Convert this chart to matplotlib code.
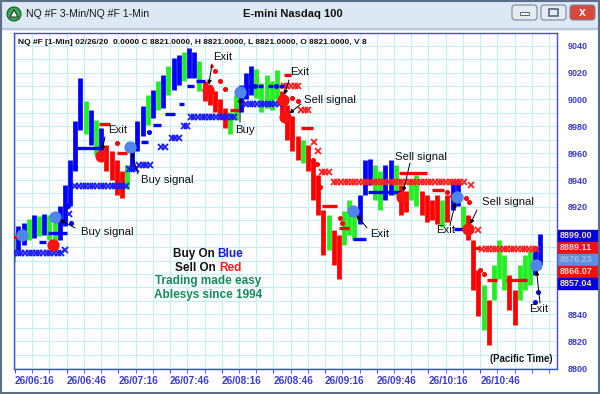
import numpy as np
import matplotlib.pyplot as plt
from matplotlib.patches import Rectangle, FancyBboxPatch, Circle, Polygon
from matplotlib.transforms import IdentityTransform

plt.rcParams['font.family'] = ['Liberation Sans', 'DejaVu Sans']

# time axis: minutes after 06:16, one bar every 3 minutes
bar_start = -1
bar_step = 3
bar_high = [8901, 8906, 8908, 8911, 8914, 8913, 8915, 8914, 8910, 8921,
            8936, 8955, 8984, 9016, 8999, 8992, 8985, 8979, 8966, 8962,
            8955, 8947, 8951, 8966, 8984, 8995, 9003, 9007, 9014, 9018,
            9025, 9031, 9033, 9035, 9038, 9035, 9029, 9014, 9011, 9006,
            9000, 8994, 8991, 9003, 9011, 9020, 9025, 9023, 9012, 9018,
            9014, 9022, 9006, 8996, 8988, 8973, 8970, 8966, 8955, 8944,
            8918, 8914, 8903, 8899, 8917, 8925, 8917, 8929, 8955, 8956,
            8951, 8947, 8951, 8955, 8951, 8936, 8932, 8940, 8944, 8932,
            8929, 8925, 8929, 8925, 8929, 8940, 8940, 8921, 8914, 8895,
            8873, 8862, 8851, 8877, 8895, 8884, 8869, 8858, 8877, 8884,
            8888, 8891, 8900]
bar_low = [8879, 8888, 8892, 8895, 8897, 8898, 8899, 8895, 8888, 8895,
           8906, 8921, 8947, 8977, 8974, 8966, 8959, 8955, 8947, 8940,
           8929, 8927, 8933, 8947, 8962, 8973, 8981, 8986, 8992, 8994,
           9003, 9007, 9011, 9014, 9016, 9016, 9006, 8999, 8996, 8991,
           8986, 8979, 8974, 8985, 8991, 9000, 9003, 9001, 8991, 8994,
           8992, 9000, 8985, 8970, 8962, 8955, 8953, 8947, 8925, 8914,
           8884, 8888, 8877, 8866, 8892, 8899, 8895, 8907, 8929, 8936,
           8925, 8918, 8925, 8929, 8929, 8914, 8916, 8925, 8921, 8914,
           8909, 8910, 8907, 8905, 8909, 8918, 8921, 8903, 8895, 8858,
           8839, 8828, 8817, 8851, 8866, 8858, 8843, 8832, 8851, 8858,
           8862, 8869, 8877]
bar_color = ("gbbgbgbggb" "bbbbgbgbrr" "rrgbbbgbgb" "gbbgbbgrrr" "rrggbbbggg"
             "ggrrrrgrrr" "rgrrgggbbb" "ggbbgrrggr" "rrrgrbbgrr" "rgrgggrrgg"
             "gbb")

# trailing stops: (from minute, to minute, price)
blue_x_stops = [(-0.5, 27, 8885.5), (29, 29, 8888), (31.5, 31.5, 8915),
                (35, 66, 8935.5), (66, 72, 8948), (72, 79, 8951),
                (85, 89, 8964.5), (91, 97, 8971), (98, 101, 8980),
                (102, 129, 8987), (132, 155, 8997)]
red_x_stops = [(156, 165, 9010), (166, 172, 8992), (173.5, 173.5, 8968),
               (176, 176, 8962), (178, 184, 8946), (185, 262, 8938.5),
               (264.5, 264.5, 8936), (269, 269, 8903), (271, 304, 8889)]
blue_dashes = [(14, 18, 8894), (19, 30, 8900.5), (36, 49, 8964),
               (73, 77, 8968), (80, 85, 8981), (87, 93, 8989), (95, 98, 8997),
               (100, 104, 9010), (105, 110, 9014), (135, 138, 9010),
               (141, 144, 9010), (147, 150, 9010), (153, 156, 9010),
               (196, 204, 8896), (205, 224, 8931), (255, 260, 8903.5)]
blue_dots = [(31, 8921), (32.5, 8908), (35, 8950), (78, 8976),
             (139.5, 9010), (151.5, 9010), (301.7, 8849), (303.5, 8856.5)]
red_dashes = [(-1, 3, 8897.5), (49, 55, 8982), (59, 65, 8960),
              (113, 115, 9025), (125, 130, 8992), (156, 160, 9018),
              (166, 173, 8979), (178, 187, 8921), (188, 194, 8904),
              (223, 239, 8945), (242, 249, 8932.5), (266, 270, 8889.5),
              (274, 280, 8865.5), (285, 297, 8865.5)]
red_dots = [(59, 8967.5), (116, 9021), (119, 9014), (122, 9008),
            (161, 9001), (164, 8999), (173, 8955), (175, 8952), (177, 8935),
            (188.5, 8912), (190, 8908), (251, 8931), (253.5, 8928),
            (262, 8927), (263.5, 8924), (270, 8873), (272.5, 8870)]

# signal markers (minute, price)
blue_sig = [(4.1, 8899), (23.2, 8912.5), (66.7, 8964.6), (130.6, 9005.5),
            (196.2, 8917), (256.5, 8927.3), (302.4, 8876.7)]
red_sig = [(22.1, 8891.6), (49.9, 8958), (112, 9007), (155.5, 8999.6),
           (156.7, 8987), (224.6, 8927.3), (262.9, 8903.5)]
notes = [("Buy signal", blue_sig[1]), ("Exit", red_sig[1]),
         ("Buy signal", blue_sig[2]), ("Exit", red_sig[2]),
         ("Buy", blue_sig[3]), ("Exit", red_sig[3]),
         ("Sell signal", red_sig[4]), ("Exit", blue_sig[4]),
         ("Sell signal", red_sig[5]), ("Exit", blue_sig[5]),
         ("Sell signal", red_sig[6]), ("Exit", blue_sig[6])]
# text offset and arrow start offset in pixels (image y downward)
note_pos = [((26, 15), (20, 11)), ((7, -26), (4, -19)), ((11, 33), (8, 27)),
            ((5, -33), (4, -26)), ((-5, 38), (0, 30)), ((7, -28), (6, -20)),
            ((19, -17), (16, -13)), ((17, 23), (14, 17)), ((-7, -40), (8, -34)),
            ((-21, 33), (-7, 28)), ((14, -27), (9, -19)), ((-7, 44), (4, 38))]

tick_minutes = [0, 30, 60, 90, 120, 150, 180, 210, 240, 270]
tick_labels = ['26/06:16', '26/06:46', '26/07:16', '26/07:46', '26/08:16',
               '26/08:46', '26/09:16', '26/09:46', '26/10:16', '26/10:46']
price_labels = [8800, 8820, 8840, 8920, 8940, 8960, 8980, 9000, 9020, 9040]
tag_values = ['8899.00', '8889.11', '8876.23', '8866.07', '8857.04']
tag_bg = ['#0000dd', '#ee1111', '#5b8fe8', '#ee1111', '#0000dd']
tag_fg = ['#f6e2b0', '#f8d8c8', '#aab8d0', '#f8d8c8', '#f6e2b0']

W, H = 600, 394
fig = plt.figure(figsize=(W / 100, H / 100), dpi=100)
fig.patch.set_facecolor('white')
PX = IdentityTransform()


def fy(y):
    return H - y


ax = fig.add_axes([14 / W, 1 - 369 / H, 543 / W, 336 / H])
ax.set_xlim(-0.6, 314.6)
ax.set_ylim(8799.3, 9049.5)

BLUE = '#0000ff'
RED = '#ff0000'
GREEN = '#22ee22'
cmap = {'b': BLUE, 'g': GREEN, 'r': RED}

t = bar_start + bar_step * np.arange(len(bar_high))
ax.vlines(t, bar_low, bar_high, colors=[cmap[c] for c in bar_color],
          linewidth=3.4, zorder=2)

for segs, col in ((blue_x_stops, '#1a1aff'), (red_x_stops, '#ff2020')):
    for t0, t1, p in segs:
        ts = np.arange(t0, t1 + 0.01, 2.1)
        ax.plot(ts, np.full(len(ts), p), 'x', color=col, ms=4.5, mew=1.3,
                zorder=3)
for segs, col in ((blue_dashes, BLUE), (red_dashes, RED)):
    for t0, t1, p in segs:
        ax.plot([t0, t1], [p, p], color=col, lw=2.4, solid_capstyle='butt',
                zorder=3)
for pts, col in ((blue_dots, BLUE), (red_dots, RED)):
    ax.plot([a for a, b in pts], [b for a, b in pts], 'o', color=col, ms=2.6,
            zorder=3)

ax.plot([a for a, b in blue_sig], [b for a, b in blue_sig], 'o',
        color='#4f86ec', ms=7.8, zorder=5)
ax.plot([a for a, b in red_sig], [b for a, b in red_sig], 'o',
        color='#ff1010', ms=7.8, zorder=5)

for (label, xy), ((tx, ty), (sx, sy)) in zip(notes, note_pos):
    ax.annotate('', xy=xy, xytext=(sx, -sy), textcoords='offset pixels',
                arrowprops=dict(arrowstyle='-|>', color='black', lw=0.7,
                                mutation_scale=6, shrinkA=0, shrinkB=4),
                zorder=6)
    ax.annotate(label, xy=xy, xytext=(tx, -ty), textcoords='offset pixels',
                ha='left', va='center', fontsize=8.2, color='#111111',
                zorder=6)

# axes styling
ax.set_xticks(tick_minutes)
ax.set_xticklabels(tick_labels)
ax.set_xticks(np.arange(0, 315, 10), minor=True)
ax.set_yticks(price_labels)
ax.set_yticks(np.arange(8800, 9050, 10), minor=True)
ax.yaxis.tick_right()
ax.grid(which='both', color='#c4eff8', lw=0.8, zorder=0)
ax.set_axisbelow(True)
for s in ax.spines.values():
    s.set_color('#4848e0')
    s.set_linewidth(1.0)
ax.tick_params(axis='x', which='both', direction='out', length=3,
               color='#4848e0', labelcolor='#3a3ad8', labelsize=7.2, pad=2)
ax.tick_params(axis='y', which='both', length=0, labelcolor='#3a3ad8',
               labelsize=6.5, pad=8)
for lab in ax.get_xticklabels():
    lab.set_ha('left')
    lab.set_fontweight('bold')
for lab in ax.get_yticklabels():
    lab.set_fontweight('bold')

# price tags at right edge, stacked
to_fig = ax.transData
ytop = to_fig.transform((0, float(tag_values[0])))[1] + 6
for i, (v, bg, fg) in enumerate(zip(tag_values, tag_bg, tag_fg)):
    y0 = ytop - 12 * (i + 1)
    fig.add_artist(Rectangle((558, y0), 45, 11.5, color=bg, transform=PX))
    fig.text(560, y0 + 5.8, v, transform=PX, fontsize=6.5, weight='bold',
             color=fg, va='center', ha='left')

# header and captions inside the chart
fig.text(18, fy(42), "NQ #F [1-Min] 02/26/20  0.0000 C 8821.0000, H 8821.0000, "
         "L 8821.0000, O 8821.0000, V 8", transform=PX, fontsize=6,
         weight='bold', va='center', color='#111111')
fig.text(552, fy(359), "(Pacific Time)", transform=PX, fontsize=6.9,
         weight='bold', ha='right', va='center', color='#111111')

renderer = fig.canvas.get_renderer()
cx = 208
for left, right, rcol, y in (("Buy On", "Blue", '#1a1ae0', 254),
                             ("Sell On", "Red", '#ff1a1a', 268)):
    probe = fig.text(0, 0, left + " " + right, transform=PX, fontsize=8.5,
                     weight='bold')
    tw = probe.get_window_extent(renderer).width
    probe.remove()
    fig.text(cx - tw / 2, fy(y), left, transform=PX, fontsize=8.5,
             weight='bold', va='center', ha='left', color='#111111')
    fig.text(cx + tw / 2, fy(y), right, transform=PX, fontsize=8.5,
             weight='bold', va='center', ha='right', color=rcol)
fig.text(cx, fy(281), "Trading made easy", transform=PX, fontsize=8.5,
         weight='bold', ha='center', va='center', color='#178a5a')
fig.text(cx, fy(295), "Ablesys since 1994", transform=PX, fontsize=8.5,
         weight='bold', ha='center', va='center', color='#178a5a')

# window chrome
fig.add_artist(Rectangle((0, fy(29)), W, 29, color='#dde8f5', transform=PX,
                         zorder=-1))
fig.add_artist(Rectangle((0, fy(29)), W, 1, color='#b8c8dc', transform=PX))
fig.add_artist(Rectangle((0.75, 0.75), W - 1.5, H - 1.5, fill=False,
                         ec='#5d6f88', lw=1.5, transform=PX))
fig.add_artist(Circle((14, fy(14)), 7, fc='#3aa655', ec='#1d5a2c', lw=0.8,
                      transform=PX))
fig.add_artist(Polygon([(10, fy(17)), (18, fy(17)), (14, fy(10))],
                       fc='white', ec='#222222', lw=0.7, transform=PX))
fig.text(26, fy(14), "NQ #F 3-Min/NQ #F 1-Min", transform=PX, fontsize=7.6,
         va='center', color='#1a1a1a')
fig.text(293, fy(14), "E-mini Nasdaq 100", transform=PX, fontsize=8,
         weight='bold', ha='center', va='center', color='#111111')
for x0, fc in ((512, '#e4ebf3'), (541, '#e4ebf3'), (570, '#d8473a')):
    fig.add_artist(FancyBboxPatch((x0, fy(20)), 25, 15,
                                  boxstyle='round,pad=0,rounding_size=3',
                                  fc=fc, ec='#7a8898', lw=0.8, transform=PX))
fig.add_artist(Rectangle((520, fy(14.5)), 9, 2.5, fc='white', ec='#55677c',
                         lw=0.7, transform=PX))
fig.add_artist(Rectangle((549, fy(16)), 9, 7, fc='none', ec='#55677c',
                         lw=1.2, transform=PX))
fig.text(582.5, fy(12.5), "x", transform=PX, fontsize=9, weight='bold',
         ha='center', va='center', color='white')

fig.savefig('out.png', dpi=100)
